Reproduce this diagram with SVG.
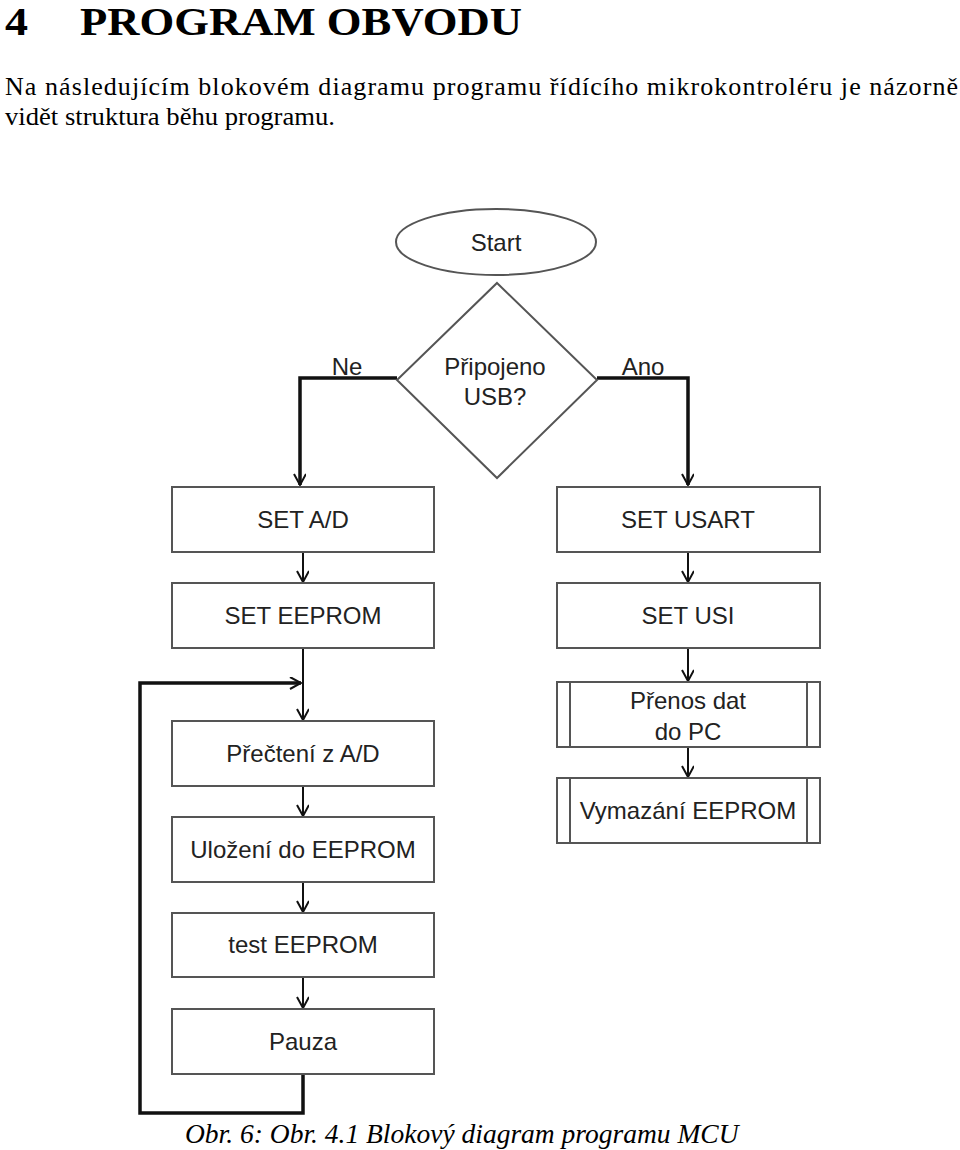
<svg xmlns="http://www.w3.org/2000/svg" width="960" height="1150" viewBox="0 0 960 1150">
<defs>
<style>
.h{font-family:"Liberation Serif",serif;font-weight:bold;font-size:40px;fill:#000}
.p{font-family:"Liberation Serif",serif;font-size:26px;fill:#000}
.cap{font-family:"Liberation Serif",serif;font-style:italic;font-size:27.5px;fill:#000}
.t{font-family:"Liberation Sans",Arial,sans-serif;font-size:24px;fill:#222;text-anchor:middle}
.box{fill:#fff;stroke:#555;stroke-width:2}
.ln{fill:none;stroke:#111;stroke-width:2}
.thk{fill:none;stroke:#111;stroke-width:3.5}
</style>
<marker id="ah" markerWidth="14" markerHeight="14" refX="12" refY="6" orient="auto" markerUnits="userSpaceOnUse">
<path d="M1,0 L12,6 L1,12" fill="none" stroke="#111" stroke-width="2"/>
</marker>
</defs>
<rect width="960" height="1150" fill="#fff"/>
<text class="h" x="5" y="35" textLength="23" lengthAdjust="spacingAndGlyphs">4</text>
<text class="h" x="80" y="35" textLength="442" lengthAdjust="spacingAndGlyphs">PROGRAM OBVODU</text>
<text class="p" x="5" y="95" textLength="953" lengthAdjust="spacing">Na následujícím blokovém diagramu programu řídícího mikrokontroléru je názorně</text>
<text class="p" x="5" y="125" textLength="330" lengthAdjust="spacingAndGlyphs">vidět struktura běhu programu.</text>

<g id="connectors">
<polyline class="thk" points="397,378 300,378 300,485" marker-end="url(#ah)"/>
<polyline class="thk" points="597,378 688,378 688,485" marker-end="url(#ah)"/>
<line class="ln" x1="303" y1="552" x2="303" y2="582" marker-end="url(#ah)"/>
<line class="ln" x1="303" y1="648" x2="303" y2="720" marker-end="url(#ah)"/>
<line class="ln" x1="303" y1="786" x2="303" y2="816" marker-end="url(#ah)"/>
<line class="ln" x1="303" y1="882" x2="303" y2="912" marker-end="url(#ah)"/>
<line class="ln" x1="303" y1="977" x2="303" y2="1008" marker-end="url(#ah)"/>
<polyline class="thk" points="303,1074 303,1113 140,1113 140,683 301,683" marker-end="url(#ah)"/>
<line class="ln" x1="688" y1="552" x2="688" y2="582" marker-end="url(#ah)"/>
<line class="ln" x1="688" y1="648" x2="688" y2="681" marker-end="url(#ah)"/>
<line class="ln" x1="688" y1="747" x2="688" y2="777" marker-end="url(#ah)"/>
</g>

<g id="start"><ellipse class="box" cx="496" cy="242" rx="100" ry="33"/><text class="t" x="496" y="251">Start</text></g>
<g id="decision"><polygon class="box" points="497,283 597,380 497,478 397,380"/><text class="t" x="495" y="375">Připojeno</text><text class="t" x="495" y="405">USB?</text></g>
<g id="lbl-ne"><text class="t" x="347" y="375">Ne</text></g>
<g id="lbl-ano"><text class="t" x="643" y="375">Ano</text></g>

<g id="set-ad"><rect class="box" x="172" y="487" width="262" height="65"/><text class="t" x="303" y="528">SET A/D</text></g>
<g id="set-eeprom"><rect class="box" x="172" y="583" width="262" height="65"/><text class="t" x="303" y="624">SET EEPROM</text></g>
<g id="precteni"><rect class="box" x="172" y="721" width="262" height="65"/><text class="t" x="303" y="762">Přečtení z A/D</text></g>
<g id="ulozeni"><rect class="box" x="172" y="817" width="262" height="65"/><text class="t" x="303" y="858">Uložení do EEPROM</text></g>
<g id="test"><rect class="box" x="172" y="913" width="262" height="64"/><text class="t" x="303" y="953">test EEPROM</text></g>
<g id="pauza"><rect class="box" x="172" y="1009" width="262" height="65"/><text class="t" x="303" y="1050">Pauza</text></g>

<g id="set-usart"><rect class="box" x="557" y="487" width="263" height="65"/><text class="t" x="688" y="528">SET USART</text></g>
<g id="set-usi"><rect class="box" x="557" y="583" width="263" height="65"/><text class="t" x="688" y="624">SET USI</text></g>
<g id="prenos"><rect class="box" x="557" y="682" width="263" height="65"/><line class="box" x1="570" y1="682" x2="570" y2="747"/><line class="box" x1="807" y1="682" x2="807" y2="747"/><text class="t" x="688" y="709">Přenos dat</text><text class="t" x="688" y="740">do PC</text></g>
<g id="vymazani"><rect class="box" x="557" y="778" width="263" height="65"/><line class="box" x1="570" y1="778" x2="570" y2="843"/><line class="box" x1="807" y1="778" x2="807" y2="843"/><text class="t" x="688" y="819">Vymazání EEPROM</text></g>

<text class="cap" x="185" y="1143">Obr. 6: Obr. 4.1 Blokový diagram programu MCU</text>
</svg>
